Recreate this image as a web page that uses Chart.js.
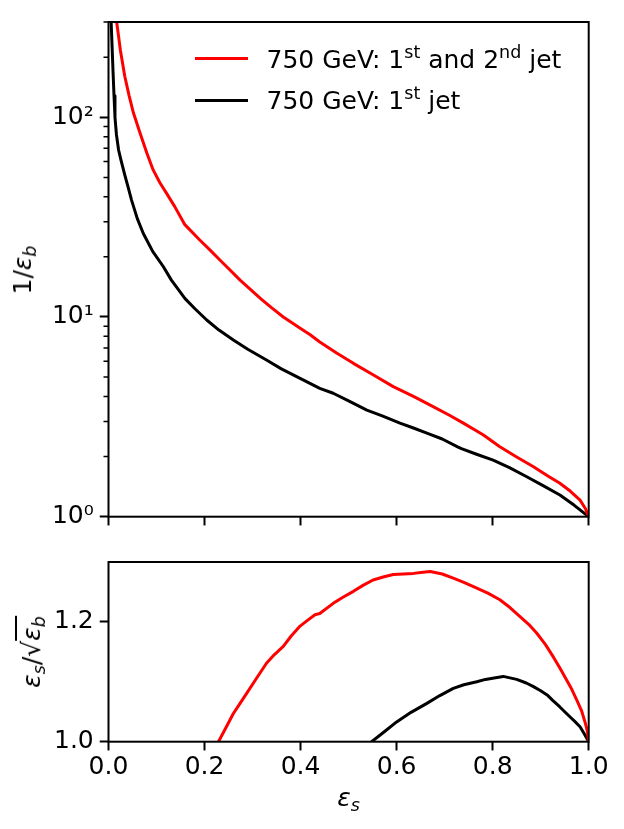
<!DOCTYPE html>
<html>
<head>
<meta charset="utf-8">
<script src="https://cdn.jsdelivr.net/npm/chart.js@4.4.0/dist/chart.umd.min.js"></script>
<style>
body{margin:0;background:#fff;}
#wrap{position:relative;width:624px;height:829px;font-family:'DejaVu Sans';color:#000;}
canvas{position:absolute;left:0;}
.lbl{position:absolute;font-size:25px;line-height:30px;white-space:nowrap;}
.sw{position:absolute;left:195px;width:53px;height:3px;}
sup{font-size:0.7em;vertical-align:baseline;position:relative;top:-10px;}
sub{font-size:0.7em;vertical-align:baseline;position:relative;top:5px;}
.rot{transform:translate(-50%,-50%) rotate(-90deg);}
.rad{border-top:2px solid #000;}
</style>
</head>
<body>
<div id="wrap">
  <canvas id="top" width="624" height="540" style="top:0"></canvas>
  <canvas id="bot" width="624" height="289" style="top:540px"></canvas>
  <div class="sw" style="top:57px;background:#ff0000"></div>
  <div class="lbl" style="left:266.5px;top:44.5px">750 GeV: 1<sup>st</sup> and 2<sup>nd</sup> jet</div>
  <div class="sw" style="top:98.5px;background:#000"></div>
  <div class="lbl" style="left:266.5px;top:85.5px">750 GeV: 1<sup>st</sup> jet</div>
  <div class="lbl rot" style="left:24px;top:270px">1/<i>ε</i><sub><i>b</i></sub></div>
  <div class="lbl rot" style="left:33px;top:652px"><i>ε</i><sub><i>s</i></sub>/√<span class="rad"><i>ε</i><sub><i>b</i></sub></span></div>
  <div class="lbl" style="left:348.6px;top:783px;transform:translateX(-50%)"><i>ε</i><sub><i>s</i></sub></div>
</div>
<script>
// x ticks shared by both panels
const xTicks=[0,0.2,0.4,0.6,0.8,1.0];
const xTickLabels=['0.0','0.2','0.4','0.6','0.8','1.0'];
const topYTicks=[1,10,100];
const topYLabels=['10⁰','10¹','10²'];
const topYMinor=[2,3,4,5,6,7,8,9,20,30,40,50,60,70,80,90,200,300];
const botYTicks=[1.0,1.2];
const botYLabels=['1.0','1.2'];

// top panel: 1/eps_b vs eps_s
const sigEffRed=[0.010,0.017,0.025,0.034,0.043,0.052,0.066,0.080,0.093,0.107,0.121,0.138,0.159,0.19,0.21,0.232,0.253,0.274,0.296,0.318,0.34,0.364,0.40,0.42,0.44,0.475,0.51,0.55,0.593,0.635,0.676,0.71,0.739,0.78,0.815,0.85,0.885,0.915,0.94,0.962,0.982,0.993,1.0];
const invBkgRed=[500,300,215,160,128,105,83,66,54.5,47,41.6,35.7,29.0,24.3,21.8,19.3,17.2,15.3,13.7,12.3,11.1,10.0,8.75,8.15,7.5,6.6,5.86,5.15,4.48,4.0,3.56,3.22,2.94,2.57,2.24,1.99,1.78,1.60,1.47,1.34,1.21,1.10,1.0];
const sigEffBlack=[0.003,0.0055,0.0075,0.0095,0.0115,0.0135,0.0165,0.021,0.026,0.034,0.041,0.048,0.06,0.0725,0.092,0.114,0.131,0.159,0.18,0.2045,0.23,0.26,0.29,0.329,0.36,0.399,0.44,0.468,0.50,0.538,0.57,0.607,0.635,0.663,0.695,0.728,0.735,0.765,0.801,0.835,0.871,0.905,0.94,0.97,1.0];
const invBkgBlack=[500,300,225,168,128,100,82,68.6,61,51.4,44.6,38.5,31.1,26.2,21.3,17.9,15.3,12.4,11.0,9.66,8.6,7.67,6.9,6.09,5.5,4.93,4.39,4.15,3.8,3.42,3.2,2.94,2.78,2.62,2.45,2.23,2.19,2.06,1.92,1.76,1.585,1.43,1.285,1.14,1.0];

// bottom panel: eps_s/sqrt(eps_b)
const sigEffRedB=[0.21,0.229,0.245,0.26,0.274,0.288,0.31,0.329,0.345,0.364,0.38,0.399,0.415,0.43,0.44,0.468,0.49,0.51,0.53,0.551,0.572,0.593,0.614,0.635,0.655,0.67,0.695,0.718,0.74,0.76,0.79,0.815,0.836,0.857,0.875,0.892,0.91,0.926,0.94,0.954,0.965,0.975,0.985,0.993,0.997,1.0];
const signifRed=[0.97,1.0,1.024,1.047,1.064,1.081,1.108,1.131,1.145,1.159,1.176,1.193,1.203,1.212,1.214,1.231,1.242,1.251,1.261,1.27,1.275,1.279,1.280,1.281,1.283,1.284,1.28,1.273,1.266,1.259,1.248,1.237,1.224,1.209,1.196,1.181,1.162,1.142,1.123,1.103,1.087,1.07,1.052,1.031,1.018,1.0];
const sigEffBlackB=[0.53,0.548,0.575,0.60,0.63,0.663,0.69,0.718,0.74,0.767,0.785,0.80,0.822,0.85,0.87,0.885,0.90,0.915,0.925,0.94,0.95,0.963,0.972,0.982,0.991,1.0];
const signifBlack=[0.975,1.0,1.017,1.033,1.049,1.064,1.077,1.089,1.095,1.10,1.104,1.106,1.109,1.104,1.098,1.092,1.085,1.077,1.069,1.058,1.05,1.04,1.033,1.025,1.013,1.0];

const FONT={family:'DejaVu Sans',size:25};
const pts=(xs,ys)=>xs.map((x,i)=>({x:x,y:ys[i]}));
const line=(xs,ys,col)=>({data:pts(xs,ys),borderColor:col,borderWidth:3,pointRadius:0,tension:0,fill:false,borderJoinStyle:'round'});

const frame={id:'frame',afterDraw(c,args,opts){
  const a=c.chartArea,ctx=c.ctx;
  ctx.save();
  if(opts.minor){
    const s=c.scales.y;
    ctx.strokeStyle='#000';ctx.lineWidth=1.5;ctx.beginPath();
    opts.minor.forEach(function(v){const p=s.getPixelForValue(v);ctx.moveTo(a.left-5,p);ctx.lineTo(a.left,p);});
    ctx.stroke();
  }
  ctx.strokeStyle='#000';ctx.lineWidth=2;
  ctx.strokeRect(a.left,a.top,a.right-a.left,a.bottom-a.top);
  ctx.restore();
}};

function xScale(show,h){
  return {type:'linear',min:0,max:1,border:{display:false},
    grid:{drawOnChartArea:false,drawTicks:true,tickLength:8.75,tickWidth:2,tickColor:'#000'},
    afterBuildTicks:function(s){s.ticks=xTicks.map(function(v){return {value:v};});},
    ticks:{display:show,padding:2.5,color:'#000',font:FONT,maxRotation:0,callback:function(v,i){return xTickLabels[i];}},
    afterFit:function(s){s.height=h;}};
}
function yScale(type,min,max,vals,labels){
  return {type:type,min:min,max:max,border:{display:false},
    grid:{drawOnChartArea:false,drawTicks:true,tickLength:8.75,tickWidth:2,tickColor:'#000'},
    afterBuildTicks:function(s){s.ticks=vals.map(function(v){return {value:v};});},
    ticks:{padding:6,color:'#000',font:FONT,callback:function(v,i){return labels[i];}},
    afterFit:function(s){s.width=108.5;}};
}

new Chart(document.getElementById('top'),{
  type:'line',
  data:{datasets:[line(sigEffRed,invBkgRed,'#ff0000'),line(sigEffBlack,invBkgBlack,'#000000')]},
  options:{responsive:false,animation:false,events:[],
    layout:{padding:{left:0,right:35.3,top:22,bottom:0}},
    plugins:{legend:{display:false},tooltip:{enabled:false},frame:{minor:topYMinor}},
    scales:{x:xScale(false,23.3),y:yScale('logarithmic',1,300,topYTicks,topYLabels)}},
  plugins:[frame]
});

new Chart(document.getElementById('bot'),{
  type:'line',
  data:{datasets:[line(sigEffRedB,signifRed,'#ff0000'),line(sigEffBlackB,signifBlack,'#000000')]},
  options:{responsive:false,animation:false,events:[],
    layout:{padding:{left:0,right:35.3,top:22,bottom:0}},
    plugins:{legend:{display:false},tooltip:{enabled:false},frame:{}},
    scales:{x:xScale(true,87.3),y:yScale('linear',1.0,1.30,botYTicks,botYLabels)}},
  plugins:[frame]
});
</script>
</body>
</html>
